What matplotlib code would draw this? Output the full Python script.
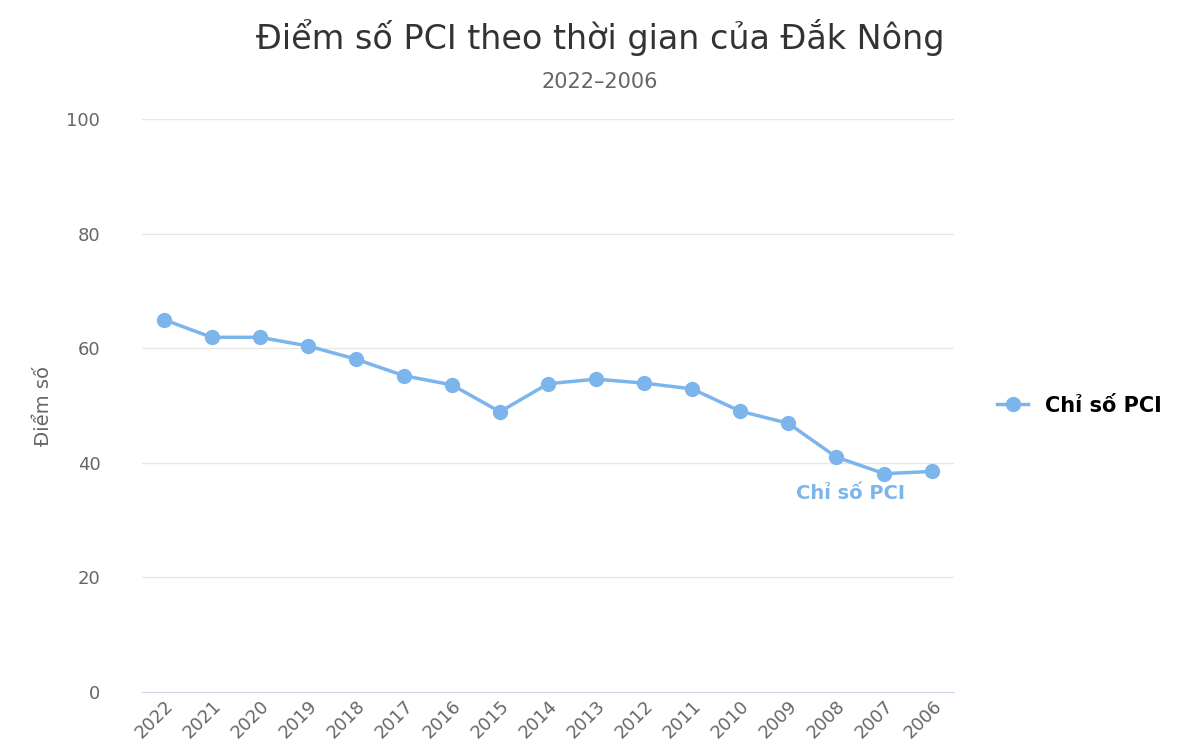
import matplotlib
matplotlib.use("Agg")
import matplotlib.pyplot as plt

years = ["2022","2021","2020","2019","2018","2017","2016","2015","2014","2013","2012","2011","2010","2009","2008","2007","2006"]
scores = [65.0,61.9,61.9,60.4,58.1,55.2,53.6,48.9,53.8,54.6,53.9,52.9,49.0,46.9,41.0,38.1,38.5]

fig = plt.figure(figsize=(12,7.5), dpi=100)
ax = fig.add_axes([142/1200, 1-692/750, (954-142)/1200, (692-119)/750])
color = "#7cb5ec"
x = list(range(len(years)))
ax.plot(x, scores, color=color, lw=2.5, marker="o", ms=10, label="Chỉ số PCI", clip_on=False)
ax.set_ylim(0,100)
ax.set_xlim(-0.45, len(years)-0.55)
ax.set_yticks([0,20,40,60,80,100])
ax.yaxis.grid(True, color="#e6e6e6", lw=1)
ax.set_axisbelow(True)
for s in ["top","right","left"]:
    ax.spines[s].set_visible(False)
ax.spines["bottom"].set_color("#ccd6eb")
ax.tick_params(axis="y", length=0, labelsize=13, colors="#666666", pad=30)
ax.tick_params(axis="x", length=0, labelsize=13, colors="#666666")
ax.set_xticks(x)
ax.set_xticklabels(years, rotation=-45, ha="left", rotation_mode="anchor") if False else ax.set_xticklabels(years, rotation=45, ha="right", rotation_mode="anchor")
ax.set_ylabel("Điểm số", fontsize=14, color="#666666", labelpad=10)
ax.text(x[-2]-0.7, scores[-2]-3.5, "Chỉ số PCI", color=color, fontsize=14, fontweight="bold", ha="center", va="center")
fig.text(0.5, 1-37/750, "Điểm số PCI theo thời gian của Đắk Nông", ha="center", va="center", fontsize=24, color="#333333")
fig.text(0.5, 1-82/750, "2022–2006", ha="center", va="center", fontsize=15, color="#666666")
ax.legend(loc="center left", bbox_to_anchor=(1.03, 0.5), frameon=False, fontsize=15, handlelength=1.5,
          prop={"weight":"bold","size":15})
fig.savefig("out.png", dpi=100)
